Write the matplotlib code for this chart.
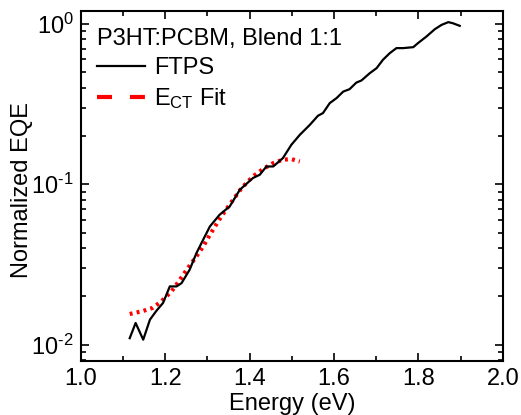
import matplotlib
matplotlib.use("Agg")
import matplotlib.pyplot as plt
from matplotlib.lines import Line2D
from matplotlib.ticker import FuncFormatter, LogLocator, MultipleLocator, NullFormatter
import numpy as np

plt.rcParams["font.family"] = ["Liberation Sans", "DejaVu Sans"]
plt.rcParams["mathtext.fontset"] = "custom"
plt.rcParams["mathtext.rm"] = "Liberation Sans"
plt.rcParams["mathtext.it"] = "Liberation Sans:italic"

# FTPS spectrum (energy in eV, log10 of normalized EQE)
ftps_e = [1.116, 1.130, 1.148, 1.164, 1.179, 1.195, 1.211, 1.227, 1.239,
          1.258, 1.274, 1.290, 1.306, 1.329, 1.353, 1.377, 1.408, 1.424,
          1.440, 1.456, 1.479, 1.499, 1.519, 1.543, 1.562, 1.574, 1.590,
          1.606, 1.622, 1.637, 1.653, 1.665, 1.685, 1.701, 1.716, 1.732,
          1.748, 1.764, 1.788, 1.799, 1.819, 1.839, 1.855, 1.871, 1.882,
          1.898]
ftps_log = [-1.96, -1.865, -1.969, -1.844, -1.79, -1.74, -1.637, -1.637,
            -1.616, -1.533, -1.43, -1.346, -1.263, -1.19, -1.138, -1.034,
            -0.961, -0.941, -0.889, -0.889, -0.837, -0.754, -0.692, -0.629,
            -0.573, -0.556, -0.494, -0.463, -0.422, -0.407, -0.366, -0.353,
            -0.307, -0.276, -0.224, -0.183, -0.151, -0.151, -0.145, -0.12,
            -0.079, -0.033, -0.006, 0.011, 0.004, -0.012]

# CT-state fit
fit_e = [1.116, 1.148, 1.171, 1.191, 1.215, 1.235, 1.254, 1.274, 1.290,
         1.306, 1.333, 1.361, 1.381, 1.408, 1.432, 1.456, 1.479, 1.499,
         1.519]
fit_log = [-1.809, -1.79, -1.77, -1.73, -1.668, -1.595, -1.522, -1.45,
           -1.388, -1.315, -1.2, -1.097, -1.024, -0.951, -0.905, -0.868,
           -0.847, -0.843, -0.858]

fs = 17


def decade_label(v, pos):
    e = int(round(np.log10(v)))
    return "10$^{\\text{%d}}$" % e


fig = plt.figure(figsize=(5.21, 4.15), dpi=100)
ax = fig.add_axes([0.155, 0.130, 0.810, 0.843])

ax.plot(fit_e, 10 ** np.array(fit_log), color="red", lw=3,
        linestyle=(0, (0.7, 1.0)))
ax.plot(ftps_e, 10 ** np.array(ftps_log), color="black", lw=1.6)

ax.set_yscale("log")
ax.set_xlim(1.0, 2.0)
ax.set_ylim(0.0079, 1.2)
ax.xaxis.set_major_locator(MultipleLocator(0.2))
ax.xaxis.set_minor_locator(MultipleLocator(0.1))
ax.yaxis.set_major_locator(LogLocator(base=10))
ax.yaxis.set_major_formatter(FuncFormatter(decade_label))
ax.yaxis.set_minor_locator(LogLocator(base=10, subs=np.arange(2, 10)))
ax.yaxis.set_minor_formatter(NullFormatter())

ax.tick_params(which="both", direction="in", top=True, right=True,
               width=1.2, labelsize=fs)
ax.tick_params(which="major", length=6)
ax.tick_params(which="minor", length=3.5)
ax.tick_params(axis="x", pad=5)
ax.tick_params(axis="y", pad=5)
for s in ax.spines.values():
    s.set_linewidth(1.5)

ax.set_xlabel("Energy (eV)", fontsize=fs, labelpad=2)
ax.set_ylabel("Normalized EQE", fontsize=fs)
ax.yaxis.set_label_coords(-0.112, 0.49)

handles = [Line2D([], [], color="black", lw=1.6),
           Line2D([], [], color="red", lw=3, linestyle=(0, (3.6, 4.3)),
                  dash_capstyle="butt")]
leg = ax.legend(handles, ["FTPS", "E$_{\\mathrm{CT}}$ Fit"],
                title="P3HT:PCBM, Blend 1:1",
                loc="upper left", frameon=False, fontsize=fs,
                title_fontsize=fs, alignment="left", handlelength=2.0,
                borderaxespad=0.3, labelspacing=0.3, handletextpad=0.4)

fig.savefig("out.png", dpi=100, facecolor="white")
